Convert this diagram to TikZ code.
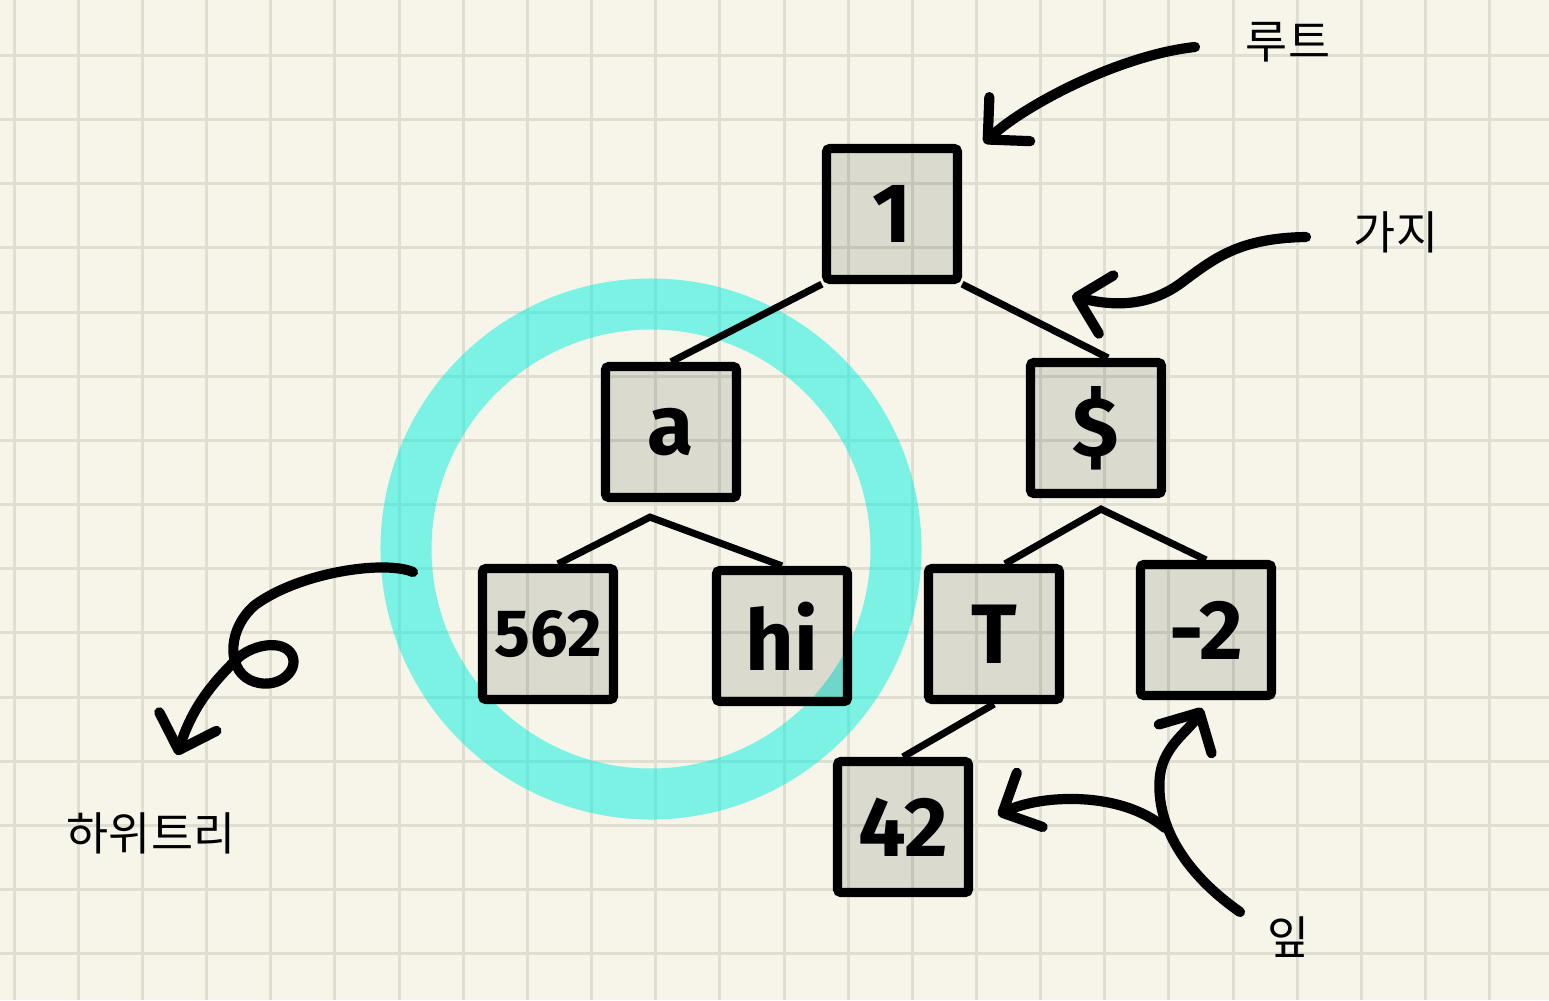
\documentclass[tikz,border=0pt]{standalone}
\usepackage{fontspec}
\newfontfamily\hand{Fira Sans}
\newfontfamily\kr{Noto Sans CJK KR}
\usetikzlibrary{arrows.meta}
\definecolor{paper}{RGB}{247,245,233}
\definecolor{gridc}{RGB}{223,222,208}
\definecolor{mint}{RGB}{0,240,224}

\begin{document}
\begin{tikzpicture}[x=0.01cm,y=-0.01cm,
        box/.style={draw, line width=2.6pt, fill=black, fill opacity=0.11, text opacity=1,
            minimum size=1.31cm, inner sep=0pt, rounded corners=1pt,
            font=\hand\bfseries\fontsize{24}{24}\selectfont},
        edge/.style={line width=2pt},
        note/.style={line width=2.9pt, line cap=round, line join=round,
            -{Straight Barb[length=3mm,width=6mm,round]}},
        kor/.style={font=\kr\fontsize{13}{13}\selectfont}]
        \useasboundingbox (0,0) rectangle (1549,1000);
        \fill[paper] (0,0) rectangle (1549,1000);
        \foreach \i in {0,...,23}
            \draw[gridc, line width=0.85pt] ({14.2+64.15*\i},0) -- ({14.2+64.15*\i},1000);
        \foreach \j in {0,...,14}
            \draw[gridc, line width=0.85pt] (0,{55.5+64.15*\j}) -- (1549,{55.5+64.15*\j});
        % subtree highlight
        \draw[mint, line width=0.51cm, draw opacity=0.5] (651,549) circle[radius=245];
        \node[box](r) at (892,214) {1};
        \node[box](a) at (671,432) {a};
        \node[box](d) at (1096,428) {\$};
        \node[box, font=\hand\bfseries\fontsize{19}{19}\selectfont](f) at (548,634) {562};
        \node[box](h) at (782,636) {hi};
        \node[box](t) at (994,634) {T};
        \node[box](m) at (1206,630) {-2};
        \node[box](ft) at (903,827) {42};
        \coordinate(av) at ([xshift=-2.1mm,yshift=-1.5mm]a.south);
        \coordinate(dv) at ([xshift=0.5mm,yshift=-1.1mm]d.south);
        \draw[edge](r.south west)--(a.north);
        \draw[edge](r.south east)--([xshift=1.2mm]d.north);
        \draw[edge]([xshift=1mm]f.north)--(av)--(h.north);
        \draw[edge]([xshift=1.1mm]t.north)--(dv)--(m.north);
        \draw[edge](t.south)--(ft.north);
        % labels
        \node[kor](lr) at (1288,42) {루트};
        \node[kor](lg) at (1396,232) {가지};
        \node[kor](ls) at (151,833) {하위트리};
        \node[kor](ll) at (1289,937) {잎};
        \coordinate(rt) at (1195,47);
        \coordinate(rh) at (984,143);
        \coordinate(gt) at (1306,237);
        \coordinate(gh) at (1072,296);
        \coordinate(st) at (413,572);
        \coordinate(sh) at (177,755);
        \coordinate(lt) at (1240,912);
        \coordinate(lh) at (1202,708);
        \coordinate(lb) at (1165,828);
        \coordinate(lk) at (998,815);
        \draw[note](rt) .. controls (1120,55) and (1025,105) .. (rh);
        \draw[note](gt) .. controls (1240,238) and (1215,258) .. (1185,280)
            .. controls (1150,308) and (1112,306) .. (gh);
        \draw[note](st) .. controls (385,560) and (300,572) .. (255,605)
            .. controls (228,628) and (226,668) .. (250,680)
            .. controls (275,692) and (300,672) .. (292,655)
            .. controls (283,638) and (250,645) .. (236,660)
            .. controls (205,690) and (190,715) .. (sh);
        \draw[note](lt) .. controls (1180,870) and (1155,820) .. (1160,775)
            .. controls (1164,745) and (1190,730) .. (lh);
        \draw[note](lb) .. controls (1120,790) and (1040,795) .. (lk);
\end{tikzpicture}
\end{document}
